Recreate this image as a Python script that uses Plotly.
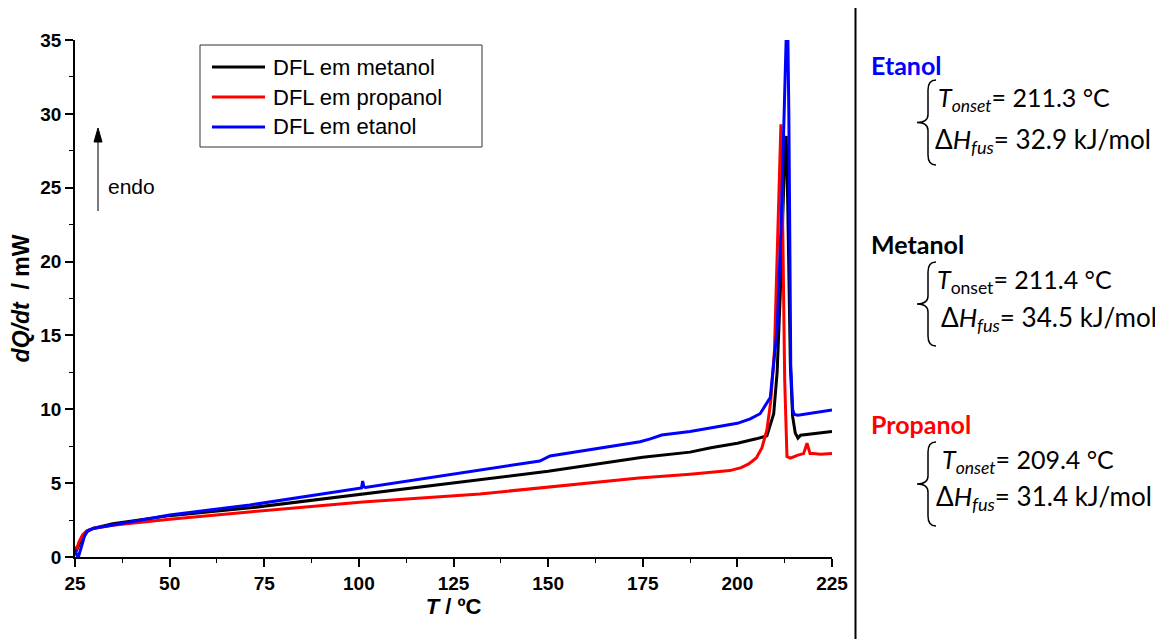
import plotly.graph_objects as go

# ---------------- data ----------------
T_met = [25, 25.5, 26, 27, 28, 30, 35, 50, 72, 101, 137, 150, 175, 187.5, 193, 200, 205,
         207.8, 209.6, 210.5, 211.3, 212, 212.6, 212.9, 213.3, 214, 214.6, 215.3, 216, 216.7, 220, 225]
Q_met = [0.6, 0.5, 0.8, 1.4, 1.7, 1.95, 2.25, 2.8, 3.35, 4.27, 5.4, 5.8, 6.75, 7.1, 7.4, 7.7, 8.0,
         8.2, 9.7, 12.5, 17.6, 24.0, 27.9, 28.5, 24.0, 13.0, 9.5, 8.4, 8.05, 8.25, 8.35, 8.5]

T_pro = [25, 25.5, 26, 27, 28, 30, 35, 50, 71, 101, 132, 137, 150, 174, 187.5, 193, 198, 201, 203,
         205, 206.5, 207.8, 208.8, 209.8, 210.9, 211.5, 212, 212.5, 213.1, 214, 216, 217.5, 218.4,
         219.2, 220, 222, 225]
Q_pro = [0.7, 0.6, 1.0, 1.5, 1.75, 1.95, 2.15, 2.55, 3.05, 3.72, 4.27, 4.4, 4.7, 5.35, 5.6, 5.75, 5.85, 6.05, 6.3,
         6.7, 7.4, 8.6, 10.5, 14.0, 24.0, 29.3, 22.0, 12.0, 6.8, 6.7, 6.9, 7.0, 7.7,
         7.0, 7.0, 6.95, 7.0]

T_eta = [25, 25.5, 25.9, 26.5, 27.5, 28.4, 30, 32.4, 50, 71.2, 100.7, 101.0, 101.3, 101.7, 132, 137.3,
         147.8, 150.5, 174.3, 177, 180, 187.5, 192.8, 200, 203.4, 206, 208.7, 210.5, 211.5, 212.3, 212.9,
         213.2, 213.6, 214.1, 214.6, 215, 216, 220, 225]
Q_eta = [0.5, 0.1, 0.0, 0.6, 1.4, 1.8, 1.95, 2.05, 2.85, 3.52, 4.67, 5.15, 4.75, 4.7, 5.9, 6.1,
         6.5, 6.84, 7.8, 8.0, 8.26, 8.5, 8.73, 9.05, 9.35, 9.7, 10.8, 15.4, 22.0, 28.9, 36.0,
         38.0, 30.0, 13.0, 10.0, 9.65, 9.6, 9.75, 9.95]

series_names = ["DFL em metanol", "DFL em propanol", "DFL em etanol"]
series_colors = ["#000000", "#ff0000", "#0000ff"]

x_ticks = [25, 50, 75, 100, 125, 150, 175, 200, 225]
y_ticks = [0, 5, 10, 15, 20, 25, 30, 35]

results = [
    ("Etanol", "#0000ff", "<i>T<sub>onset</sub></i>= 211.3 °C", "Δ<i>H<sub>fus</sub></i>= 32.9 kJ/mol"),
    ("Metanol", "#000000", "<i>T</i><sub>onset</sub>= 211.4 °C", "Δ<i>H<sub>fus</sub></i>= 34.5 kJ/mol"),
    ("Propanol", "#ff0000", "<i>T<sub>onset</sub></i>= 209.4 °C", "Δ<i>H<sub>fus</sub></i>= 31.4 kJ/mol"),
]

# ---------------- layout geometry (screen pixels; page body has an 8px margin) ----------------
SW, SH = 1163, 639
OFF = 8
L, R, TOP, BOT = 75, 832, 40, 557

def px(x):
    return (x - L) / (R - L)

def py(y):
    return (BOT - y) / (BOT - TOP)

fig = go.Figure()
for T, Q, name, col in zip([T_met, T_pro, T_eta], [Q_met, Q_pro, Q_eta], series_names, series_colors):
    fig.add_trace(go.Scatter(x=T, y=Q, mode="lines", name=name, showlegend=False,
                             line=dict(color=col, width=3)))

ARIAL = "Liberation Sans, Arial"
fig.update_layout(
    width=SW - OFF, height=SH - OFF, autosize=False,
    margin=dict(l=L - OFF, r=SW - R, t=TOP - OFF, b=SH - BOT, pad=0),
    paper_bgcolor="white", plot_bgcolor="white",
    font=dict(family=ARIAL, color="black"),
    showlegend=False,
    xaxis=dict(range=[25, 225], tickvals=x_ticks, showgrid=False, zeroline=False,
               showline=True, linecolor="black", linewidth=1.5,
               ticks="outside", ticklen=8, tickwidth=1.5, tickcolor="black",
               tickfont=dict(family=ARIAL, size=19, color="black", weight="bold"),
               minor=dict(dtick=12.5, tick0=25, ticks="outside", ticklen=4, tickwidth=1.2, tickcolor="black"),
               title=dict(text="<b><i>T</i> / ºC</b>", font=dict(family=ARIAL, size=22),
                          standoff=2)),
    yaxis=dict(range=[0, 35], tickvals=y_ticks, showgrid=False, zeroline=False,
               showline=True, linecolor="black", linewidth=1.5,
               ticks="outside", ticklen=8, tickwidth=1.5, tickcolor="black",
               tickfont=dict(family=ARIAL, size=19, color="black", weight="bold"),
               minor=dict(dtick=2.5, tick0=0, ticks="outside", ticklen=4, tickwidth=1.2, tickcolor="black"),
               title=dict(text="<b><i>dQ/dt</i>  / mW</b>", font=dict(family=ARIAL, size=23),
                          standoff=5)),
)

# legend (box, line samples, labels)
fig.add_shape(type="rect", xref="paper", yref="paper", x0=px(200), x1=px(482), y0=py(45), y1=py(147),
              line=dict(color="#333333", width=1), fillcolor="white", layer="below")
row_y = [67, 97, 127]
for i, (name, col) in enumerate(zip(series_names, series_colors)):
    fig.add_shape(type="line", xref="paper", yref="paper", x0=px(212), x1=px(265),
                  y0=py(row_y[i]), y1=py(row_y[i]), line=dict(color=col, width=3))
    fig.add_annotation(x=px(271), y=py(row_y[i]), xref="paper", yref="paper", text=name, showarrow=False,
                       xanchor="left", yanchor="middle",
                       font=dict(family=ARIAL, size=22, color="black"))

# endo arrow (shaft + head)
fig.add_shape(type="line", xref="paper", yref="paper", x0=px(98), x1=px(98), y0=py(211), y1=py(138),
              line=dict(color="#333333", width=1.3))
fig.add_shape(type="path", xref="paper", yref="paper",
              path=f"M {px(94)},{py(142)} L {px(98)},{py(128)} L {px(102)},{py(142)} Z",
              fillcolor="black", line=dict(color="black", width=1))
fig.add_annotation(x=px(106), y=py(186), xref="paper", yref="paper", text="endo", showarrow=False,
                   xanchor="left", yanchor="middle",
                   font=dict(family=ARIAL, size=21, color="black"))

# separator
fig.add_shape(type="line", xref="paper", yref="paper", x0=px(855.5), x1=px(855.5), y0=py(8), y1=py(639),
              line=dict(color="black", width=2))

# right panel
title_y = [65, 244, 424]
line1_y = [99, 281, 461]
line2_y = [140, 318, 497]
brace = [(80, 165), (262, 346), (442, 526)]
line_x1 = [936, 935, 940]
line_x2 = [933, 939, 934]
CAL = "Lato, Open Sans"
for i, (name, col, l1, l2) in enumerate(results):
    fig.add_annotation(x=px(869), y=py(title_y[i]), xref="paper", yref="paper", text="<b>" + name + "</b>",
                       showarrow=False, xanchor="left", yanchor="middle",
                       font=dict(family=CAL, size=25, color=col))
    fig.add_annotation(x=px(line_x1[i]), y=py(line1_y[i]), xref="paper", yref="paper", text=l1,
                       showarrow=False, xanchor="left", yanchor="middle",
                       font=dict(family=CAL, size=25, color="black"))
    fig.add_annotation(x=px(line_x2[i]), y=py(line2_y[i]), xref="paper", yref="paper", text=l2,
                       showarrow=False, xanchor="left", yanchor="middle",
                       font=dict(family=CAL, size=26, color="black"))
    yt, yb = brace[i]
    ym = (yt + yb) / 2
    xr, xm, xt = 936, 928, 917
    pts = f"M {px(xr)},{py(yt)} Q {px(xm)},{py(yt)} {px(xm)},{py(yt+10)} L {px(xm)},{py(ym-8)} " \
          f"Q {px(xm)},{py(ym)} {px(xt)},{py(ym)} Q {px(xm)},{py(ym)} {px(xm)},{py(ym+8)} " \
          f"L {px(xm)},{py(yb-10)} Q {px(xm)},{py(yb)} {px(xr)},{py(yb)}"
    fig.add_shape(type="path", xref="paper", yref="paper", path=pts,
                  line=dict(color="black", width=1.5))

fig.write_html("out.html")
